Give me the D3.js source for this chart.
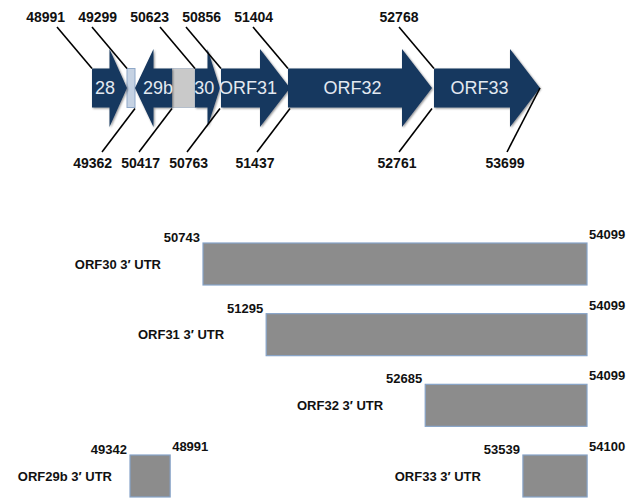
<!DOCTYPE html>
<meta charset="utf-8">
<script src="https://d3js.org/d3.v7.min.js"></script>
<style>
  body { margin: 0; background: #fff; }
  text { font-family: "Liberation Sans", Arial, sans-serif; }
</style>
<div id="my_dataviz"></div>
<script>

// genes on the top map (29b is on the minus strand)
var geneNames  = ["28", "29b", "30", "ORF31", "ORF32", "ORF33"];
var geneStarts = [48991, 50417, 50623, 50856, 51404, 52768];
var geneEnds   = [49299, 49362, 50763, 51437, 52761, 53699];

// non coding boxes between genes
var gapStarts = [49299, 50417];
var gapEnds   = [49362, 50623];

// coordinates called out above / below the map
var topLabels    = [48991, 49299, 50623, 50856, 51404, 52768];
var bottomLabels = [49362, 50417, 50763, 51437, 52761, 53699];

// 3' UTR transcripts
var utrNames  = ["ORF30 3\u2032 UTR", "ORF31 3\u2032 UTR", "ORF32 3\u2032 UTR", "ORF33 3\u2032 UTR", "ORF29b 3\u2032 UTR"];
var utrStarts = [50743, 51295, 52685, 53539, 49342];
var utrEnds   = [54099, 54099, 54099, 54100, 48991];
var utrRows   = [0, 1, 2, 3, 3];

var svg = d3.select("#my_dataviz")
  .append("svg")
    .attr("width", 634)
    .attr("height", 499);

var defs = svg.append("defs");
var f = defs.append("filter").attr("id", "glow")
  .attr("x", "-10%").attr("y", "-10%").attr("width", "120%").attr("height", "120%");
f.append("feGaussianBlur").attr("in", "SourceAlpha").attr("stdDeviation", 1.2).attr("result", "b");
f.append("feOffset").attr("in", "b").attr("dx", 0.5).attr("dy", 1).attr("result", "o");
f.append("feComponentTransfer").attr("in", "o").attr("result", "s")
  .append("feFuncA").attr("type", "linear").attr("slope", 0.45);
var m = f.append("feMerge");
m.append("feMergeNode").attr("in", "s");
m.append("feMergeNode").attr("in", "SourceGraphic");

// the map is not drawn to scale, so a piecewise scale
var x = d3.scaleLinear()
  .domain([48991, 49299, 49362, 50417, 50623, 50763, 50856, 51404, 51437, 52761, 52768, 53699])
  .range([92, 127, 135, 172, 195, 220, 221, 288, 290, 432, 434, 540]);

var cy = 88, bodyH = 19.5, headH = 39;

function arrowPath(a, b) {
  // a = start, b = tip (pixels); works both directions
  var dir = b > a ? 1 : -1;
  var len = Math.abs(b - a);
  var head = Math.min(30, len * 0.5);
  var hb = b - dir * head;
  return "M" + a + "," + (cy - bodyH) +
    "L" + hb + "," + (cy - bodyH) +
    "L" + hb + "," + (cy - headH) +
    "L" + b + "," + cy +
    "L" + hb + "," + (cy + headH) +
    "L" + hb + "," + (cy + bodyH) +
    "L" + a + "," + (cy + bodyH) + "Z";
}

// push label centres apart so neighbours don't collide
function spread(cs, gap) {
  var out = cs.slice();
  for (var k = 0; k < 20; k++) {
    for (var i = 1; i < out.length; i++) {
      var d = out[i] - out[i - 1];
      if (d < gap) {
        out[i - 1] -= (gap - d) / 2;
        out[i] += (gap - d) / 2;
      }
    }
  }
  return out;
}

var map = svg.append("g");

// gap boxes
map.selectAll(".gap")
  .data(gapStarts)
  .enter().append("rect")
    .attr("x", function (d) { return x(d); })
    .attr("y", cy - bodyH)
    .attr("width", function (d, i) { return x(gapEnds[i]) - x(d); })
    .attr("height", bodyH * 2)
    .style("fill", function (d, i) { return i == 0 ? "#c5d2e3" : "#c9c9c9"; })
    .style("stroke", function (d, i) { return i == 0 ? "#8fa8c8" : "#b5bfcc"; })
    .style("stroke-width", 1);

// gene arrows
map.selectAll(".gene")
  .data(geneNames)
  .enter().append("path")
    .attr("d", function (d, i) { return arrowPath(x(geneStarts[i]), x(geneEnds[i])); })
    .style("fill", "#17375e")
    .attr("filter", "url(#glow)");

map.selectAll(".gname")
  .data(geneNames)
  .enter().append("text")
    .attr("x", function (d, i) {
      var a = x(geneStarts[i]), b = x(geneEnds[i]);
      var head = Math.min(30, Math.abs(b - a) * 0.5);
      var dir = b > a ? 1 : -1;
      return (a + b) / 2 - dir * head * 0.25;
    })
    .attr("y", cy)
    .attr("dy", "0.36em")
    .style("text-anchor", "middle")
    .style("font-size", "18px")
    .style("fill", "#e3e9f1")
    .text(function (d) { return d; });

// callouts above
var topX = spread(topLabels.map(function (d) { return x(d) - 35; }), 52);

map.selectAll(".tline")
  .data(topLabels)
  .enter().append("line")
    .attr("x1", function (d) { return x(d) - 35; })
    .attr("y1", 27)
    .attr("x2", function (d) { return x(d); })
    .attr("y2", cy - bodyH)
    .style("stroke", "#000")
    .style("stroke-width", 1.6);

map.selectAll(".tlab")
  .data(topLabels)
  .enter().append("text")
    .attr("x", function (d, i) { return topX[i]; })
    .attr("y", 22)
    .style("text-anchor", "middle")
    .style("font-size", "14px")
    .style("font-weight", "bold")
    .style("fill", "#111")
    .text(function (d) { return d; });

// callouts below
var botX = spread(bottomLabels.map(function (d) { return x(d) - 35; }), 48);

map.selectAll(".bline")
  .data(bottomLabels)
  .enter().append("line")
    .attr("x1", function (d) { return x(d); })
    .attr("y1", function (d, i) { return i == bottomLabels.length - 1 ? cy : cy + bodyH + 1; })
    .attr("x2", function (d) { return x(d) - 33; })
    .attr("y2", 152)
    .style("stroke", "#000")
    .style("stroke-width", 1.6);

map.selectAll(".blab")
  .data(bottomLabels)
  .enter().append("text")
    .attr("x", function (d, i) { return botX[i]; })
    .attr("y", 168)
    .style("text-anchor", "middle")
    .style("font-size", "14px")
    .style("font-weight", "bold")
    .style("fill", "#111")
    .text(function (d) { return d; });

// 3' UTR panel, drawn to scale (29b sits in a break on the left)
var xu = d3.scaleLinear().domain([50743, 54099]).range([203, 587]);
var pxPerBp = (587 - 203) / (54099 - 50743);
var xb = d3.scaleLinear().domain([49342, 48991]).range([130, 130 + (49342 - 48991) * pxPerBp]);
function ux(v, i) { return utrStarts[i] < 50000 ? xb(v) : xu(v); }

var y = d3.scaleLinear().domain([0, 3]).range([243, 455]);
var barH = 42;

var utr = svg.append("g");

utr.selectAll(".bar")
  .data(utrNames)
  .enter().append("rect")
    .attr("x", function (d, i) { return ux(utrStarts[i], i); })
    .attr("y", function (d, i) { return y(utrRows[i]); })
    .attr("width", function (d, i) { return ux(utrEnds[i], i) - ux(utrStarts[i], i); })
    .attr("height", barH)
    .style("fill", "#8c8c8c")
    .style("stroke", "#86a3c8")
    .style("stroke-width", 1.2);

utr.selectAll(".uname")
  .data(utrNames)
  .enter().append("text")
    .attr("x", function (d, i) { return ux(utrStarts[i], i) - (utrStarts[i] < 50000 ? 18 : 42); })
    .attr("y", function (d, i) { return y(utrRows[i]) + barH / 2; })
    .attr("dy", "0.36em")
    .style("text-anchor", "end")
    .style("font-size", "13px")
    .style("font-weight", "bold")
    .style("fill", "#111")
    .text(function (d) { return d; });

utr.selectAll(".ustart")
  .data(utrStarts)
  .enter().append("text")
    .attr("x", function (d, i) { return ux(d, i) - 3; })
    .attr("y", function (d, i) { return y(utrRows[i]) - 1; })
    .style("text-anchor", "end")
    .style("font-size", "13px")
    .style("font-weight", "bold")
    .style("fill", "#111")
    .text(function (d) { return d; });

utr.selectAll(".uend")
  .data(utrEnds)
  .enter().append("text")
    .attr("x", function (d, i) { return ux(d, i) + 2; })
    .attr("y", function (d, i) { return y(utrRows[i]) - 4; })
    .style("text-anchor", "start")
    .style("font-size", "13px")
    .style("font-weight", "bold")
    .style("fill", "#111")
    .text(function (d) { return d; });

</script>
